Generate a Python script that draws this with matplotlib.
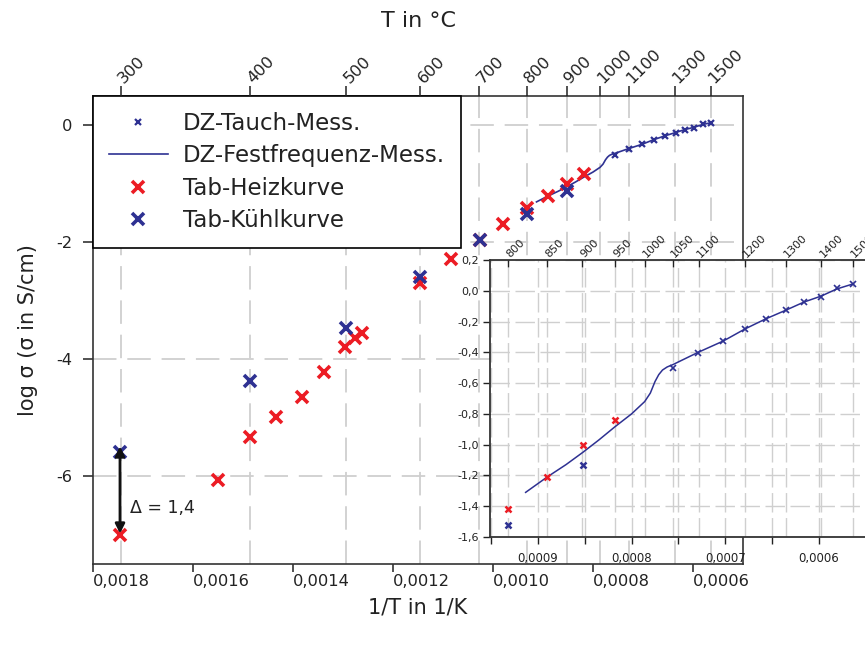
import numpy as np
import matplotlib.pyplot as plt

plt.rcParams['font.family'] = ['DejaVu Sans']

# Tab-Heizkurve (heating), x = 1/T in 1/K, y = log sigma
heiz_x = [0.001746, 0.00155, 0.001486, 0.001434, 0.001382, 0.001338, 0.001296, 0.001276,
          0.001262, 0.001146, 0.001084, 0.001026, 0.00098, 0.000932, 0.00089, 0.000852, 0.000818]
heiz_y = [-7.0, -6.07, -5.33, -4.99, -4.65, -4.22, -3.79, -3.63,
          -3.55, -2.69, -2.28, -1.97, -1.68, -1.42, -1.21, -1.0, -0.84]

# Tab-Kuehlkurve (cooling)
kuehl_x = [0.001746, 0.001486, 0.001294, 0.001146, 0.001026, 0.000932, 0.000852]
kuehl_y = [-5.59, -4.37, -3.46, -2.59, -1.97, -1.52, -1.13]

# DZ-Tauch-Mess.
tauch_x = [0.000756, 0.000729, 0.000702, 0.000679, 0.000657, 0.000635, 0.000616, 0.000598, 0.000581, 0.000564]
tauch_y = [-0.50, -0.404, -0.326, -0.248, -0.183, -0.125, -0.073, -0.04, 0.018, 0.044]

# DZ-Festfrequenz-Mess.
fest_x = [0.000913, 0.000890, 0.000870, 0.000852, 0.000835, 0.000818, 0.000800, 0.000786, 0.000780,
          0.000775, 0.000771, 0.000767, 0.000762, 0.000756, 0.000729, 0.000702, 0.000679, 0.000657,
          0.000635, 0.000616, 0.000598, 0.000581, 0.000564]
fest_y = [-1.31, -1.21, -1.13, -1.05, -0.97, -0.885, -0.80, -0.72, -0.665,
          -0.59, -0.545, -0.515, -0.495, -0.48, -0.40, -0.326, -0.248, -0.183,
          -0.125, -0.073, -0.035, 0.012, 0.044]

# temperature ticks in degC
main_T = [300, 400, 500, 600, 700, 800, 900, 1000, 1100, 1300, 1500]
inset_T = [800, 850, 900, 950, 1000, 1050, 1100, 1200, 1300, 1400, 1500]
main_xticks = [0.0018, 0.0016, 0.0014, 0.0012, 0.0010, 0.0008, 0.0006]
main_yticks = [0, -2, -4, -6]
inset_xticks = [0.0009, 0.0008, 0.0007, 0.0006]
inset_xminor = [0.00095, 0.00085, 0.00075, 0.00065]
inset_yticks = [0.2, 0.0, -0.2, -0.4, -0.6, -0.8, -1.0, -1.2, -1.4, -1.6]

red = '#ec1c24'
blue = '#2e3192'
grid_c = '#cfcfcf'
spine_c = '#333333'


def inv_T(t):
    return 1.0 / (np.asarray(t, dtype=float) + 273.15)


def comma(v, nd):
    s = f'{v:.{nd}f}'.replace('.', ',')
    return s.replace('-0,0', '0,0') if v == 0 else s


fig = plt.figure(figsize=(8.65, 6.52), dpi=100)

# %% main axes
ax = fig.add_axes([93 / 865, 1 - 564 / 652, 650 / 865, 468 / 652])
ax.set_xlim(0.0018, 0.0005)
ax.set_ylim(-7.5, 0.5)

for p in inv_T(main_T):
    ax.axvline(p, color=grid_c, lw=1.3, ls=(0, (13, 6)), zorder=0)
for v in main_yticks:
    ax.axhline(v, color=grid_c, lw=1.3, ls=(0, (13, 6)), zorder=0)

ax.plot(fest_x, fest_y, color=blue, lw=1.2, label='DZ-Festfrequenz-Mess.', zorder=3)
ax.plot(tauch_x, tauch_y, 'x', color=blue, ms=5, mew=1.6, label='DZ-Tauch-Mess.', zorder=4)
ax.plot(heiz_x, heiz_y, 'x', color=red, ms=9, mew=2.6, label='Tab-Heizkurve', zorder=4)
ax.plot(kuehl_x, kuehl_y, 'x', color=blue, ms=9, mew=2.6, label='Tab-Kühlkurve', zorder=5)

ax.annotate('', xy=(heiz_x[0], kuehl_y[0] + 0.1), xytext=(heiz_x[0], heiz_y[0] + 0.02),
            arrowprops=dict(arrowstyle='<|-|>', color='#111111', lw=2,
                            shrinkA=0, shrinkB=0, mutation_scale=14), zorder=6)
ax.text(heiz_x[0] - 0.00002, -6.55, 'Δ = 1,4', fontsize=12.5, va='center', color='#222222')

ax.set_xticks(main_xticks)
ax.set_xticklabels([comma(v, 4) for v in main_xticks], ha='left')
ax.set_yticks(main_yticks)
ax.set_yticklabels([str(v) for v in main_yticks])
ax.tick_params(axis='x', length=6, width=1.1, pad=1, labelsize=11.7, colors='#222222')
ax.tick_params(axis='y', length=7, width=1.1, pad=8, labelsize=11.7, colors='#222222')
ax.set_xlabel('1/T in 1/K', fontsize=15, labelpad=6, color='#222222')
ax.set_ylabel('log σ (σ in S/cm)', fontsize=15, labelpad=13, color='#222222')
for s in ax.spines.values():
    s.set_color(spine_c)
    s.set_linewidth(1.2)

h, l = ax.get_legend_handles_labels()
order = [1, 0, 2, 3]
leg = ax.legend([h[i] for i in order], [l[i] for i in order], loc='upper left',
                bbox_to_anchor=(0, 1), borderaxespad=0, fontsize=16.5, frameon=True,
                fancybox=False, edgecolor='black', framealpha=1, handlelength=2.6,
                handletextpad=0.65, labelspacing=0.42, borderpad=0.68)
leg.get_frame().set_linewidth(1.2)
for t in leg.get_texts():
    t.set_color('#222222')

ax_top = ax.twiny()
ax_top.set_xlim(ax.get_xlim())
ax_top.set_xticks(inv_T(main_T))
ax_top.set_xticklabels([str(t) for t in main_T], rotation=45, ha='left', va='center',
                       rotation_mode='anchor')
ax_top.tick_params(axis='x', length=7, width=1.1, pad=4, labelsize=11.7, colors='#222222')
ax_top.set_xlabel('T in °C', fontsize=16, labelpad=14, color='#222222')
for s in ax_top.spines.values():
    s.set_visible(False)

# %% inset
axin = fig.add_axes([490 / 865, 1 - 537 / 652, 375 / 865, 277 / 652], zorder=10)
axin.set_facecolor('white')
axin.set_xlim(0.000951, 0.000551)
axin.set_ylim(-1.6, 0.2)

for p in list(inv_T(inset_T)) + inset_xticks + inset_xminor:
    axin.axvline(p, color=grid_c, lw=1.0, ls=(0, (14, 4)), zorder=0)
for v in inset_yticks:
    axin.axhline(v, color=grid_c, lw=1.0, ls=(0, (14, 4)), zorder=0)

axin.plot(fest_x, fest_y, color=blue, lw=1.1, zorder=3)
axin.plot(tauch_x, tauch_y, 'x', color=blue, ms=4, mew=1.2, zorder=4)
axin.plot(heiz_x, heiz_y, 'x', color=red, ms=5, mew=1.8, zorder=4)
axin.plot(kuehl_x, kuehl_y, 'x', color=blue, ms=5, mew=1.8, zorder=5)

axin.set_xticks(inset_xticks)
axin.set_xticklabels([comma(v, 4) for v in inset_xticks])
axin.set_xticks(inset_xminor, minor=True)
axin.set_yticks(inset_yticks)
axin.set_yticklabels([comma(v, 1) for v in inset_yticks])
axin.tick_params(axis='x', which='both', length=5, width=1.0, pad=6, labelsize=8.5, colors='#222222')
axin.tick_params(axis='y', length=5, width=1.0, pad=3, labelsize=8, colors='#222222')
for k in ['left', 'bottom', 'top']:
    axin.spines[k].set_color(spine_c)
    axin.spines[k].set_linewidth(1.3)
axin.spines['right'].set_visible(False)

axin_top = axin.twiny()
axin_top.set_xlim(axin.get_xlim())
axin_top.set_xticks(inv_T(inset_T))
axin_top.set_xticklabels([str(t) for t in inset_T], rotation=45, ha='left', va='center',
                         rotation_mode='anchor')
axin_top.tick_params(axis='x', direction='in', length=5, width=1.0, pad=3, labelsize=8,
                     colors='#222222')
for s in axin_top.spines.values():
    s.set_visible(False)

fig.savefig('out.png', dpi=100)
